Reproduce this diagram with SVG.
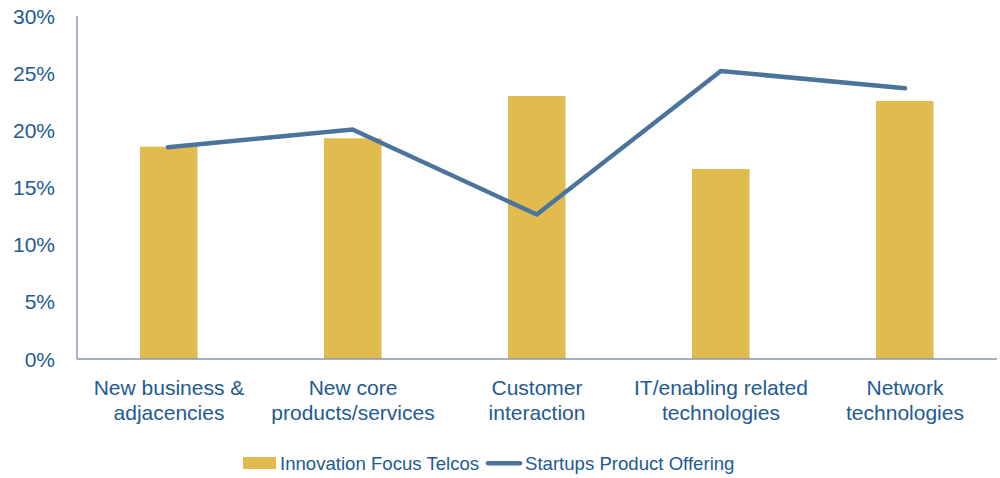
<svg xmlns="http://www.w3.org/2000/svg" width="1000" height="478" viewBox="0 0 1000 478">
<style>
text{font-family:"Liberation Sans",Arial,sans-serif;fill:#225a93}
.yl{font-size:21px;text-anchor:end}
.cl{font-size:21px;text-anchor:middle}
.lg{font-size:18.6px}
.bar{fill:#e1bb4d}
.axis{stroke:#8894b0;stroke-width:1.4;fill:none}
.series{stroke:#4a749b;stroke-width:4.5;fill:none;stroke-linejoin:miter;stroke-linecap:round}
</style>
<rect width="1000" height="478" fill="#ffffff"/>
<g id="y-labels">
<text class="yl" x="55" y="24">30%</text>
<text class="yl" x="55" y="81">25%</text>
<text class="yl" x="55" y="138">20%</text>
<text class="yl" x="55" y="195">15%</text>
<text class="yl" x="55" y="252">10%</text>
<text class="yl" x="55" y="309">5%</text>
<text class="yl" x="55" y="366.5">0%</text>
</g>
<g id="bars">
<rect id="bar-new-business" class="bar" x="140" y="146.7" width="57.5" height="212.3"/>
<rect id="bar-new-core" class="bar" x="324" y="138.3" width="57.5" height="220.7"/>
<rect id="bar-customer" class="bar" x="508" y="96" width="57.5" height="263"/>
<rect id="bar-it" class="bar" x="692" y="169" width="57.5" height="190"/>
<rect id="bar-network" class="bar" x="876" y="101" width="57.5" height="258"/>
</g>
<g id="axes">
<path class="axis" d="M77 16V359"/>
<path class="axis" d="M77 359H997"/>
</g>
<g id="connectors">
<polyline class="series" points="168,147.3 352.5,129.5 536.8,214.5 720.8,71 905,88.3"/>
</g>
<g id="category-labels">
<text class="cl" x="169" y="394.5">New business &amp;</text>
<text class="cl" x="169" y="419.5">adjacencies</text>
<text class="cl" x="353" y="394.5">New core</text>
<text class="cl" x="353" y="419.5">products/services</text>
<text class="cl" x="537" y="394.5">Customer</text>
<text class="cl" x="537" y="419.5">interaction</text>
<text class="cl" x="721" y="394.5">IT/enabling related</text>
<text class="cl" x="721" y="419.5">technologies</text>
<text class="cl" x="905" y="394.5">Network</text>
<text class="cl" x="905" y="419.5">technologies</text>
</g>
<g id="legend">
<rect class="bar" x="243" y="457" width="33" height="12"/>
<text class="lg" x="280" y="470">Innovation Focus Telcos</text>
<path class="series" d="M488 463.3H520" stroke-linecap="butt"/>
<text class="lg" x="525" y="470">Startups Product Offering</text>
</g>
</svg>
